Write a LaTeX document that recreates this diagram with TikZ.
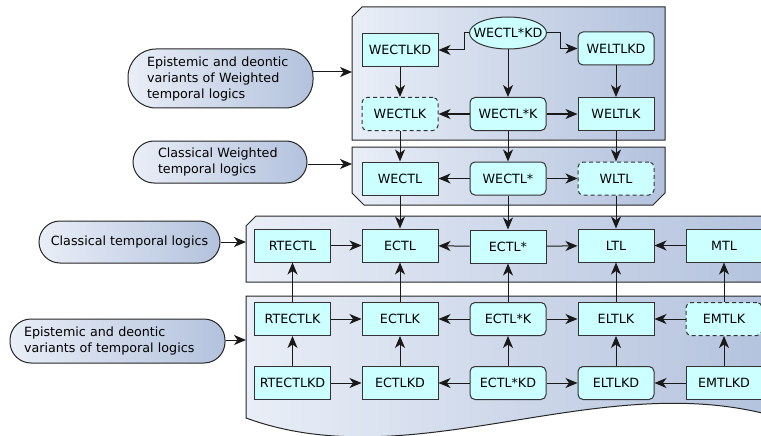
\documentclass[tikz,border=0pt]{standalone}
\usepackage{fontspec}
\setmainfont{DejaVu Sans}
\usetikzlibrary{arrows.meta,shapes.geometric}
\definecolor{boxfill}{HTML}{CCFFFF}
\definecolor{panelleft}{HTML}{E9EEF7}
\definecolor{panelright}{HTML}{B3C2DD}
\definecolor{edgegray}{HTML}{333333}
\begin{document}
\begin{tikzpicture}[x=1pt, y=-1pt, >={Stealth[length=12pt,width=10pt,inset=3.5pt]},
    font=\fontsize{12.7}{16}\selectfont,
    logic/.style={draw=edgegray, line width=1pt, fill=boxfill, minimum width=76pt, minimum height=33pt, inner sep=0pt},
    logicr/.style={logic, rounded corners=5pt},
    logicd/.style={logicr, dash pattern=on 4pt off 3pt},
    family/.style={draw=black!85, line width=1pt, left color=panelleft, right color=panelright, rounded corners=21pt, inner sep=0pt, align=left},
    panel/.style={draw=black!85, line width=1pt, left color=panelleft, right color=panelright},
    conn/.style={->, line width=1pt, draw=black!90}]
        \useasboundingbox (0,0) rectangle (761,436);
        \clip (0,0) rectangle (761,436);
        % panels
        \shade[panel] (352,17) -- (362,7) -- (665,7) -- (665,140) -- (352,140) -- cycle;
        \shade[panel] (352,147) -- (665,147) -- (665,193) -- (653,205) -- (364,205) -- (352,193) -- cycle;
        \shade[panel] (246,226) -- (256,216) -- (775,216) -- (775,282) -- (246,282) -- cycle;
        \shade[panel] (246,296) -- (775,296) -- (775,416) -- (762,413) .. controls (590,372) and (410,478) .. (246,418) -- cycle;
        \coordinate (P1) at (352,72);
        \coordinate (P2) at (352,164);
        \coordinate (P3) at (246,242);
        \coordinate (P4) at (246,340);
        % families
        \node[family, minimum width=185pt, minimum height=59pt, text width=147pt, rounded corners=28pt] (EW) at (220.5,78.5) {Epistemic and deontic\\variants of Weighted\\temporal logics};
        \node[family, minimum width=174pt, minimum height=42pt, text width=124pt] (CW) at (220,162) {Classical Weighted\\temporal logics};
        \node[family, minimum width=181pt, minimum height=42pt, align=center] (CT) at (129.5,242) {Classical temporal logics};
        \node[family, minimum width=215pt, minimum height=44pt, text width=187pt] (ET) at (117.5,341) {Epistemic and deontic\\variants of temporal logics};
        \draw[conn] ([xshift=-1pt]EW.east |- P1) -- (P1);
        \draw[conn] (CW.east |- P2) -- (P2);
        \draw[conn] (CT.east) -- (P3);
        \draw[conn] (ET.east |- P4) -- (P4);
        % weighted, epistemic
        \node[ellipse, draw=edgegray, line width=1pt, fill=boxfill, minimum width=77pt, minimum height=32pt, inner sep=0pt] (WECTLSKD) at (508,33) {\makebox[0pt]{WECTL*KD}};
        \node[logic] (WECTLKD) at (400,50) {WECTLKD};
        \node[logicr] (WELTLKD) at (616,48.5) {WELTLKD};
        \node[logicd] (WECTLK) at (400,114) {WECTLK};
        \node[logicr] (WECTLSK) at (508,114) {WECTL*K};
        \node[logic] (WELTLK) at (616,114) {WELTLK};
        % weighted
        \node[logic] (WECTL) at (400,178.5) {WECTL};
        \node[logicr] (WECTLS) at (508,178.5) {WECTL*};
        \node[logicd] (WLTL) at (616,178.5) {WLTL};
        % classical
        \node[logic] (RTECTL) at (292.5,245.5) {RTECTL};
        \node[logic] (ECTL) at (400,245.5) {ECTL};
        \node[logic] (ECTLS) at (508,246.5) {ECTL*};
        \node[logic] (LTL) at (616,245.5) {LTL};
        \node[logic] (MTL) at (724,245.5) {MTL};
        % epistemic
        \node[logic] (RTECTLK) at (292.5,319) {RTECTLK};
        \node[logic] (ECTLK) at (400,319) {ECTLK};
        \node[logicr] (ECTLSK) at (508,319) {ECTL*K};
        \node[logic] (ELTLK) at (616,319) {ELTLK};
        \node[logicd] (EMTLK) at (724,319) {EMTLK};
        \node[logic] (RTECTLKD) at (292.5,383) {RTECTLKD};
        \node[logic] (ECTLKD) at (400,383) {ECTLKD};
        \node[logicr] (ECTLSKD) at (508,383) {ECTL*KD};
        \node[logicr] (ELTLKD) at (616,383) {ELTLKD};
        \node[logic] (EMTLKD) at (724,383) {EMTLKD};
        % connectors
        \draw[conn] (WECTLSKD.west) -- ++(-5,0) |- (WECTLKD.east);
        \draw[conn] (WECTLSKD.east) -- ++(13,0) |- (WELTLKD.west);
        \draw[conn] (WECTLSKD) -- (WECTLSK);
        \draw[conn] (WECTLKD) -- (WECTLK);
        \draw[conn] (WELTLKD) -- (WELTLK);
        \draw[conn] (WECTLSK) -- (WECTLK);
        \draw[conn] (WECTLSK) -- (WELTLK);
        \draw[conn] (WECTLK) -- (WECTL);
        \draw[conn] (WECTLSK) -- (WECTLS);
        \draw[conn] (WELTLK) -- (WLTL);
        \draw[conn] (WECTLS) -- (WECTL);
        \draw[conn] (WECTLS) -- (WLTL);
        \draw[conn] (WECTL) -- (ECTL);
        \draw[conn] (WECTLS) -- (ECTLS);
        \draw[conn] (WLTL) -- (LTL);
        \draw[conn] (RTECTL) -- (ECTL);
        \draw[conn] (ECTLS) -- (ECTL);
        \draw[conn] (ECTLS) -- (LTL);
        \draw[conn] (MTL) -- (LTL);
        \draw[conn] (RTECTLK) -- (RTECTL);
        \draw[conn] (ECTLK) -- (ECTL);
        \draw[conn] (ECTLSK) -- (ECTLS);
        \draw[conn] (ELTLK) -- (LTL);
        \draw[conn] (EMTLK) -- (MTL);
        \draw[conn] (RTECTLK) -- (ECTLK);
        \draw[conn] (ECTLSK) -- (ECTLK);
        \draw[conn] (ECTLSK) -- (ELTLK);
        \draw[conn] (EMTLK) -- (ELTLK);
        \draw[conn] (RTECTLKD) -- (RTECTLK);
        \draw[conn] (ECTLKD) -- (ECTLK);
        \draw[conn] (ECTLSKD) -- (ECTLSK);
        \draw[conn] (ELTLKD) -- (ELTLK);
        \draw[conn] (EMTLKD) -- (EMTLK);
        \draw[conn] (RTECTLKD) -- (ECTLKD);
        \draw[conn] (ECTLSKD) -- (ECTLKD);
        \draw[conn] (ECTLSKD) -- (ELTLKD);
        \draw[conn] (EMTLKD) -- (ELTLKD);
\end{tikzpicture}
\end{document}
